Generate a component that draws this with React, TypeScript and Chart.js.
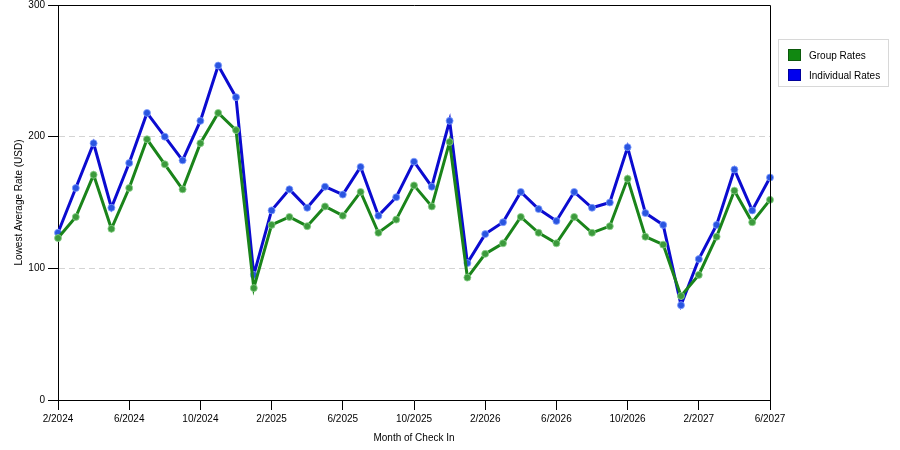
import { useEffect, useRef } from "react";
import { Chart, registerables, Plugin } from "chart.js";

Chart.register(...registerables);

const months = [
  "2/2024", "3/2024", "4/2024", "5/2024", "6/2024", "7/2024", "8/2024", "9/2024",
  "10/2024", "11/2024", "12/2024", "1/2025", "2/2025", "3/2025", "4/2025", "5/2025",
  "6/2025", "7/2025", "8/2025", "9/2025", "10/2025", "11/2025", "12/2025", "1/2026",
  "2/2026", "3/2026", "4/2026", "5/2026", "6/2026", "7/2026", "8/2026", "9/2026",
  "10/2026", "11/2026", "12/2026", "1/2027", "2/2027", "3/2027", "4/2027", "5/2027",
  "6/2027",
];

const groupRates = [
  123, 139, 171, 130, 161, 198, 179, 160, 195, 218, 205, 85, 133, 139, 132, 147,
  140, 158, 127, 137, 163, 147, 196, 93, 111, 119, 139, 127, 119, 139, 127, 132,
  168, 124, 118, 79, 95, 124, 159, 135, 152,
];

const individualRates = [
  127, 161, 195, 146, 180, 218, 200, 182, 212, 254, 230, 95, 144, 160, 146, 162,
  156, 177, 140, 154, 181, 162, 212, 104, 126, 135, 158, 145, 136, 158, 146, 150,
  192, 142, 133, 72, 107, 133, 175, 144, 169,
];

const yTicks = [0, 100, 200, 300];

const GREEN = "#1a841a";
const BLUE = "#0b0bd0";
const FONT = "'Liberation Sans', Arial, sans-serif";

// top and right edges of the plot box
const boxPlugin: Plugin<"line"> = {
  id: "plotBox",
  afterDraw(chart) {
    const { ctx, chartArea } = chart;
    ctx.save();
    ctx.strokeStyle = "#000";
    ctx.lineWidth = 1;
    ctx.setLineDash([]);
    ctx.beginPath();
    ctx.moveTo(chartArea.left, chartArea.top + 0.5);
    ctx.lineTo(chartArea.right + 0.5, chartArea.top + 0.5);
    ctx.lineTo(chartArea.right + 0.5, chartArea.bottom);
    ctx.stroke();
    ctx.restore();
  },
};

export default function App() {
  const canvasRef = useRef<HTMLCanvasElement | null>(null);

  useEffect(() => {
    if (!canvasRef.current) return;
    const chart = new Chart(canvasRef.current, {
      type: "line",
      data: {
        labels: months,
        datasets: [
          {
            label: "Group Rates",
            data: groupRates,
            borderColor: GREEN,
            borderWidth: 3,
            pointRadius: 3.5,
            pointBackgroundColor: "#3c9a3c",
            pointBorderColor: "rgba(140,210,140,0.8)",
            pointBorderWidth: 1,
            tension: 0,
          },
          {
            label: "Individual Rates",
            data: individualRates,
            borderColor: BLUE,
            borderWidth: 3,
            pointRadius: 3.5,
            pointBackgroundColor: "#2a55e0",
            pointBorderColor: "rgba(130,160,255,0.8)",
            pointBorderWidth: 1,
            tension: 0,
          },
        ],
      },
      options: {
        responsive: false,
        animation: false,
        layout: { padding: { left: 0, right: 130, top: 5, bottom: 0 } },
        plugins: { legend: { display: false }, tooltip: { enabled: false } },
        scales: {
          x: {
            type: "category",
            offset: false,
            afterBuildTicks: (scale) => {
              scale.ticks = scale.ticks.filter((_t, i) => i % 4 === 0);
            },
            afterFit: (scale) => {
              scale.height = 50;
            },
            ticks: {
              autoSkip: false,
              maxRotation: 0,
              color: "#000",
              padding: 3,
              font: { family: FONT, size: 10 },
            },
            grid: {
              drawOnChartArea: false,
              drawTicks: true,
              tickLength: 10,
              tickColor: "#000",
            },
            border: { color: "#000", width: 1 },
            title: {
              display: true,
              text: "Month of Check In",
              color: "#000",
              font: { family: FONT, size: 10 },
              padding: { top: 0, bottom: 6 },
            },
          },
          y: {
            min: 0,
            max: 300,
            afterBuildTicks: (scale) => {
              scale.ticks = yTicks.map((v) => ({ value: v }));
            },
            afterFit: (scale) => {
              scale.width = 58;
              scale.paddingTop = 0;
              scale.paddingBottom = 0;
            },
            ticks: {
              color: "#000",
              padding: 3,
              font: { family: FONT, size: 10 },
            },
            grid: {
              color: (c) =>
                c.tick && (c.tick.value === 100 || c.tick.value === 200)
                  ? "#d4d4d4"
                  : "rgba(0,0,0,0)",
              tickBorderDash: [],
              tickColor: "#000",
              tickLength: 10,
              drawTicks: true,
            },
            border: { color: "#000", width: 1, dash: [6, 4] },
            title: {
              display: true,
              text: "Lowest Average Rate (USD)",
              color: "#000",
              font: { family: FONT, size: 10 },
              padding: { top: 13, bottom: 0 },
            },
          },
        },
      },
      plugins: [boxPlugin],
    });
    return () => chart.destroy();
  }, []);

  const legendRow = (color: string, text: string) => (
    <div style={{ display: "flex", alignItems: "center", height: 20 }}>
      <span
        style={{
          display: "inline-block",
          width: 13,
          height: 12,
          background: color,
          border: "1px solid rgba(0,0,0,0.35)",
          boxSizing: "border-box",
          marginRight: 8,
        }}
      />
      <span>{text}</span>
    </div>
  );

  return (
    <div style={{ position: "fixed", left: 0, top: 0, width: 900, height: 450, background: "#fff" }}>
      <canvas ref={canvasRef} width={900} height={450} />
      <div
        style={{
          position: "absolute",
          left: 778,
          top: 39,
          width: 111,
          height: 48,
          border: "1px solid #d8d8d8",
          boxSizing: "border-box",
          padding: "5px 0 0 9px",
          fontFamily: FONT,
          fontSize: 10,
          color: "#000",
        }}
      >
        {legendRow("#118811", "Group Rates")}
        {legendRow("#0000ee", "Individual Rates")}
      </div>
    </div>
  );
}
